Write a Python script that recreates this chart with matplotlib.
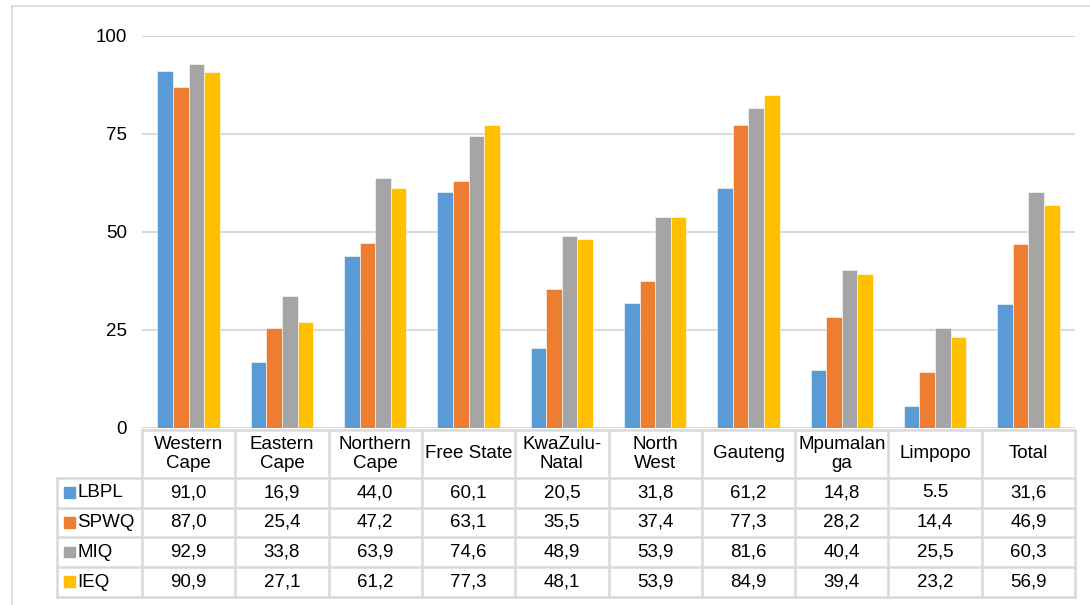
import matplotlib
matplotlib.use("Agg")
import matplotlib.pyplot as plt
from matplotlib.patches import Rectangle
from matplotlib.lines import Line2D
import numpy as np

plt.rcParams['font.family'] = ['Liberation Sans', 'DejaVu Sans']

provinces = ['Western\nCape', 'Eastern\nCape', 'Northern\nCape', 'Free State',
             'KwaZulu-\nNatal', 'North\nWest', 'Gauteng', 'Mpumalan\nga',
             'Limpopo', 'Total']
series = ['LBPL', 'SPWQ', 'MIQ', 'IEQ']
lbpl = [91.0, 16.9, 44.0, 60.1, 20.5, 31.8, 61.2, 14.8, 5.5, 31.6]
spwq = [87.0, 25.4, 47.2, 63.1, 35.5, 37.4, 77.3, 28.2, 14.4, 46.9]
miq = [92.9, 33.8, 63.9, 74.6, 48.9, 53.9, 81.6, 40.4, 25.5, 60.3]
ieq = [90.9, 27.1, 61.2, 77.3, 48.1, 53.9, 84.9, 39.4, 23.2, 56.9]
colors = ['#5B9BD5', '#ED7D31', '#A5A5A5', '#FFC000']
yticks = [0, 25, 50, 75, 100]

W, H = 1090, 605
fig = plt.figure(figsize=(W / 100, H / 100), dpi=100)

def px_box(x0, y0, x1, y1):
    # pixel box (top-left origin) -> figure fraction rect
    return [x0 / W, 1 - y1 / H, (x1 - x0) / W, (y1 - y0) / H]

grid_c = '#D9D9D9'
fs = 13.5

# outer frame of the chart area
fig.add_artist(Line2D([12 / W, 12 / W], [0, 1 - 6 / H], color=grid_c, lw=1.2,
                      transform=fig.transFigure))
fig.add_artist(Line2D([12 / W, 1], [1 - 6 / H, 1 - 6 / H], color=grid_c, lw=1.2,
                      transform=fig.transFigure))

# bar chart
ax = fig.add_axes(px_box(142, 36, 1075, 428))
x = np.arange(len(provinces))
bw = 0.167
for k, vals in enumerate([lbpl, spwq, miq, ieq]):
    ax.bar(x + (k - 1.5) * bw, vals, bw, color=colors[k], edgecolor='white',
           linewidth=0.4, zorder=3)
ax.set_xlim(-0.5, len(provinces) - 0.5)
ax.set_ylim(0, 100)
ax.set_yticks(yticks)
ax.set_yticklabels([str(t) for t in yticks], fontsize=fs)
ax.tick_params(axis='y', length=0, pad=11)
ax.set_xticks([])
ax.yaxis.grid(True, color=grid_c, lw=1.5, zorder=0)
for s in ax.spines.values():
    s.set_visible(False)

# data table below the bars
leg_w = 85 / 93.3
tab = fig.add_axes(px_box(57, 430, 1075, 597))
tab.set_xlim(-0.5 - leg_w, len(provinces) - 0.5)
tab.set_ylim(-4, 1.6)
tab.axis('off')

lw_t = 1.8
tab.plot([-0.5, len(provinces) - 0.5], [1.6, 1.6], color=grid_c, lw=lw_t, clip_on=False)
for i in range(len(provinces) + 1):
    tab.plot([i - 0.5, i - 0.5], [-4, 1.6], color=grid_c, lw=lw_t, clip_on=False)
tab.plot([-0.5 - leg_w, -0.5 - leg_w], [-4, 0], color=grid_c, lw=lw_t, clip_on=False)
for r in range(5):
    tab.plot([-0.5 - leg_w, len(provinces) - 0.5], [-r, -r], color=grid_c, lw=lw_t,
             clip_on=False)
for i, name in enumerate(provinces):
    tab.text(i, 0.8, name, ha='center', va='center', fontsize=fs, linespacing=1.15)

for r, (name, vals) in enumerate(zip(series, [lbpl, spwq, miq, ieq])):
    yc = -r - 0.5
    tab.add_patch(Rectangle((-0.5 - leg_w + 0.075, yc - 0.17), 0.115, 0.36,
                            color=colors[r], clip_on=False))
    tab.text(-0.5 - leg_w + 0.22, yc, name, ha='left', va='center', fontsize=fs)
    for i, v in enumerate(vals):
        lab = f'{v:.1f}'
        # the Limpopo LBPL figure is printed with a point in the source table
        if not (name == 'LBPL' and i == 8):
            lab = lab.replace('.', ',')
        tab.text(i, yc, lab, ha='center', va='center', fontsize=fs)

fig.savefig('out.png', dpi=100)
